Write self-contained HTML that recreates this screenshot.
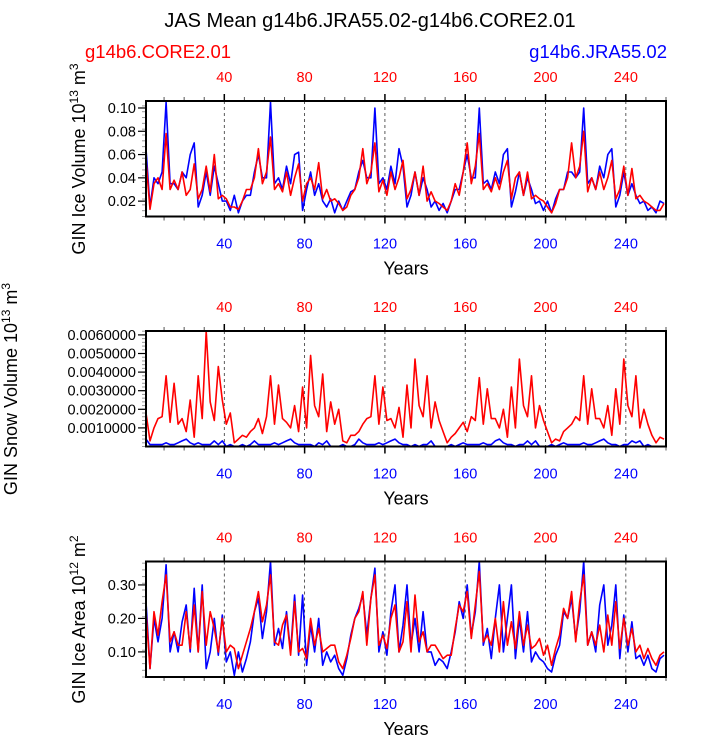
<!DOCTYPE html>
<html><head><meta charset="utf-8"><style>
html,body{margin:0;padding:0;background:#fff;}
svg{display:block;font-family:"Liberation Sans",sans-serif;}
</style></head><body>
<svg id="chart" width="710" height="736" viewBox="0 0 710 736" xmlns="http://www.w3.org/2000/svg">
<text x="370" y="27" text-anchor="middle" font-size="20">JAS Mean g14b6.JRA55.02-g14b6.CORE2.01</text>
<text x="85" y="58" font-size="18.5" fill="#f00">g14b6.CORE2.01</text>
<text x="667" y="58" text-anchor="end" font-size="18.5" fill="#00f">g14b6.JRA55.02</text>
<g id="panels"></g>
</svg>
<script>
const xTicks = [40, 80, 120, 160, 200, 240];
const iceVolRed = [0.055,0.013,0.035,0.040,0.030,0.078,0.030,0.038,0.030,0.045,0.025,0.030,0.052,0.022,0.030,0.050,0.028,0.060,0.022,0.025,0.022,0.015,0.015,0.013,0.020,0.030,
0.030,0.040,0.065,0.035,0.045,0.075,0.030,0.035,0.028,0.045,0.025,0.040,0.052,0.020,0.035,0.040,0.030,0.053,0.022,0.030,0.020,0.022,0.018,0.012,0.015,0.025,
0.030,0.040,0.065,0.035,0.045,0.070,0.028,0.038,0.025,0.045,0.030,0.040,0.055,0.022,0.030,0.045,0.025,0.050,0.020,0.028,0.020,0.018,0.015,0.012,0.020,0.035,
0.025,0.045,0.070,0.035,0.050,0.078,0.030,0.035,0.028,0.040,0.030,0.045,0.055,0.022,0.040,0.045,0.025,0.045,0.022,0.025,0.022,0.020,0.015,0.010,0.018,0.030,
0.030,0.040,0.070,0.040,0.050,0.080,0.028,0.040,0.030,0.045,0.030,0.040,0.055,0.022,0.030,0.050,0.025,0.048,0.022,0.025,0.020,0.018,0.015,0.012,0.012,0.018];
const iceVolBlue = [0.065,0.015,0.040,0.035,0.045,0.105,0.035,0.035,0.030,0.045,0.040,0.060,0.070,0.015,0.025,0.045,0.025,0.050,0.035,0.020,0.020,0.012,0.025,0.010,0.020,0.025,
0.025,0.045,0.060,0.040,0.040,0.105,0.035,0.040,0.030,0.050,0.035,0.060,0.062,0.012,0.030,0.045,0.025,0.035,0.020,0.015,0.022,0.010,0.020,0.012,0.020,0.028,
0.030,0.045,0.055,0.040,0.040,0.100,0.035,0.040,0.030,0.050,0.035,0.065,0.050,0.015,0.025,0.045,0.025,0.040,0.030,0.015,0.020,0.012,0.018,0.010,0.020,0.030,
0.030,0.045,0.060,0.040,0.040,0.100,0.035,0.038,0.030,0.045,0.035,0.060,0.065,0.015,0.028,0.045,0.025,0.040,0.030,0.018,0.020,0.012,0.020,0.010,0.022,0.030,
0.030,0.045,0.045,0.040,0.045,0.100,0.035,0.040,0.030,0.050,0.040,0.060,0.065,0.015,0.025,0.045,0.025,0.035,0.025,0.018,0.020,0.012,0.015,0.010,0.020,0.018];
const snowRed = [0.0018,0.0003,0.0010,0.0015,0.0016,0.0038,0.0013,0.0034,0.0012,0.0015,0.0008,0.0025,0.0005,0.0038,0.0015,0.0062,0.0024,0.0014,0.0043,0.0025,0.0012,0.0018,0.0002,0.0004,0.0006,0.0005,
0.0008,0.0010,0.0015,0.0007,0.0016,0.0038,0.0012,0.0033,0.0015,0.0013,0.0010,0.0022,0.0008,0.0032,0.0010,0.0049,0.0022,0.0016,0.0039,0.0008,0.0024,0.0012,0.0020,0.0003,0.0002,0.0006,
0.0006,0.0008,0.0012,0.0015,0.0016,0.0038,0.0012,0.0032,0.0014,0.0015,0.0010,0.0021,0.0005,0.0033,0.0010,0.0047,0.0022,0.0016,0.0038,0.0010,0.0024,0.0014,0.0008,0.0002,0.0005,0.0007,
0.0010,0.0013,0.0008,0.0016,0.0014,0.0037,0.0012,0.0031,0.0015,0.0015,0.0010,0.0020,0.0005,0.0032,0.0010,0.0047,0.0022,0.0016,0.0038,0.0010,0.0022,0.0014,0.0008,0.0002,0.0004,0.0003,
0.0008,0.0010,0.0012,0.0016,0.0014,0.0038,0.0012,0.0031,0.0015,0.0015,0.0010,0.0022,0.0006,0.0031,0.0012,0.0047,0.0022,0.0016,0.0038,0.0010,0.0020,0.0012,0.0006,0.0002,0.0005,0.0004];
const snowBlue = [0.0004,0.0001,0.0001,0.0001,0.0001,0.0002,0.0001,0.0001,0.0002,0.0003,0.0004,0.0002,0.0001,0.0002,0.0001,0.0001,0.0001,0.0003,0.0001,0.0003,0.0000,0.0001,0.0000,0.0000,0.0001,0.0000,
0.0001,0.0003,0.0001,0.0001,0.0001,0.0001,0.0002,0.0001,0.0002,0.0003,0.0004,0.0002,0.0001,0.0001,0.0001,0.0001,0.0000,0.0002,0.0001,0.0003,0.0000,0.0000,0.0000,0.0001,0.0000,0.0000,
0.0001,0.0004,0.0002,0.0001,0.0001,0.0001,0.0002,0.0001,0.0002,0.0003,0.0004,0.0002,0.0001,0.0001,0.0000,0.0001,0.0000,0.0001,0.0001,0.0003,0.0000,0.0000,0.0000,0.0000,0.0001,0.0000,
0.0001,0.0002,0.0001,0.0001,0.0001,0.0001,0.0002,0.0001,0.0001,0.0003,0.0004,0.0002,0.0001,0.0001,0.0000,0.0001,0.0001,0.0003,0.0001,0.0003,0.0000,0.0000,0.0000,0.0001,0.0000,0.0001,
0.0002,0.0001,0.0001,0.0001,0.0001,0.0002,0.0001,0.0001,0.0002,0.0003,0.0004,0.0002,0.0001,0.0001,0.0000,0.0001,0.0001,0.0003,0.0002,0.0003,0.0000,0.0001,0.0000,0.0000,0.0000,0.0000];
const areaRed = [0.22,0.05,0.22,0.15,0.25,0.33,0.13,0.16,0.12,0.12,0.22,0.11,0.24,0.10,0.28,0.12,0.22,0.17,0.10,0.20,0.10,0.12,0.11,0.05,0.09,0.13,
0.17,0.22,0.28,0.19,0.24,0.33,0.13,0.12,0.18,0.21,0.09,0.25,0.10,0.11,0.08,0.20,0.12,0.17,0.10,0.11,0.12,0.12,0.07,0.05,0.09,0.14,
0.20,0.22,0.28,0.12,0.26,0.33,0.12,0.15,0.11,0.20,0.24,0.10,0.13,0.25,0.10,0.27,0.13,0.16,0.10,0.12,0.12,0.10,0.08,0.09,0.09,0.17,
0.24,0.22,0.28,0.14,0.24,0.34,0.13,0.15,0.12,0.20,0.10,0.25,0.12,0.19,0.11,0.22,0.12,0.18,0.11,0.12,0.14,0.09,0.12,0.06,0.11,0.15,
0.23,0.20,0.28,0.13,0.25,0.33,0.12,0.16,0.12,0.18,0.10,0.21,0.12,0.25,0.11,0.20,0.12,0.17,0.10,0.12,0.08,0.11,0.08,0.06,0.09,0.10];
const areaBlue = [0.25,0.05,0.20,0.13,0.20,0.36,0.10,0.16,0.10,0.19,0.24,0.10,0.29,0.10,0.30,0.05,0.10,0.20,0.09,0.21,0.07,0.10,0.03,0.10,0.04,0.08,
0.13,0.22,0.26,0.14,0.22,0.37,0.12,0.17,0.11,0.22,0.10,0.27,0.09,0.27,0.06,0.18,0.10,0.20,0.06,0.10,0.07,0.09,0.05,0.03,0.08,0.15,
0.20,0.23,0.27,0.15,0.26,0.35,0.10,0.16,0.09,0.22,0.30,0.10,0.18,0.30,0.12,0.20,0.10,0.22,0.10,0.10,0.06,0.08,0.07,0.05,0.10,0.16,
0.25,0.20,0.30,0.15,0.22,0.37,0.12,0.17,0.08,0.20,0.30,0.10,0.20,0.30,0.08,0.20,0.10,0.22,0.07,0.10,0.08,0.07,0.05,0.04,0.09,0.12,
0.22,0.20,0.26,0.14,0.22,0.37,0.12,0.16,0.10,0.24,0.30,0.12,0.18,0.30,0.08,0.21,0.10,0.19,0.08,0.09,0.06,0.09,0.05,0.04,0.08,0.09];
const iceVolTicks = [0.02, 0.04, 0.06, 0.08, 0.10];
const snowTicks = [0.001, 0.002, 0.003, 0.004, 0.005, 0.006];
const areaTicks = [0.10, 0.20, 0.30];

const NS = "http://www.w3.org/2000/svg";
const X0 = 146, X1 = 666, YR0 = 1, YR1 = 260;
function xs(yr){ return X0 + (yr - YR0) * (X1 - X0) / (YR1 - YR0); }
function mk(tag, attrs, parent){ const e = document.createElementNS(NS, tag); for (const k in attrs) e.setAttribute(k, attrs[k]); parent.appendChild(e); return e; }
const root = document.getElementById('panels');

function panel(cfg){
  const top = cfg.top, bot = top + 115.5;
  const g = mk('g', {}, root);
  
  
  const ys = v => bot - (v - cfg.ymin) / (cfg.ymax - cfg.ymin) * (bot - top);
  xTicks.forEach(t => {
    const l = mk('line', {x1: xs(t), x2: xs(t), y1: top, y2: bot, stroke: '#333', 'stroke-width': 0.8, 'stroke-dasharray': '3,3'}, g);
    
    
  });
  for (let t = 10; t <= 260; t += 10) {
    const major = t % 40 === 0;
    const len = major ? 7 : 4;
    mk('line', {x1: xs(t), x2: xs(t), y1: top, y2: top - len, stroke: major ? '#000' : '#555', 'stroke-width': major ? 1.5 : 1}, g);
    mk('line', {x1: xs(t), x2: xs(t), y1: bot, y2: bot + len, stroke: major ? '#000' : '#555', 'stroke-width': major ? 1.5 : 1}, g);
  }
  xTicks.forEach(t => {
    const a = mk('text', {x: xs(t), y: top - 19, 'text-anchor': 'middle', 'font-size': 14.5, fill: '#f00'}, g);
    a.textContent = t;
    
    
    const b = mk('text', {x: xs(t), y: bot + 32, 'text-anchor': 'middle', 'font-size': 14.5, fill: '#00f'}, g);
    b.textContent = t;
    
    
  });
  for (let v = cfg.ymin; v <= cfg.ymax + 1e-12; v += cfg.minor) {
    const yy = ys(v); if (yy < top - 0.5 || yy > bot + 0.5) continue;
    mk('line', {x1: X0, x2: X0 - 4, y1: yy, y2: yy, stroke: '#999', 'stroke-width': 1}, g);
  }
  cfg.ticks.forEach(v => {
    mk('line', {x1: X0, x2: X0 - 8, y1: ys(v), y2: ys(v), stroke: '#000', 'stroke-width': 1.2}, g);
    const tl = mk('text', {x: X0 - 10, y: ys(v) + 5, 'text-anchor': 'end', 'font-size': 14.5}, g);
    tl.textContent = v.toFixed(cfg.dec);
    
    
  });
  [[cfg.blue, '#00f', 'jra-line'], [cfg.red, '#f00', 'core-line']].forEach(([arr, col, nm]) => {
    const pts = arr.map((v, i) => xs(1 + 2 * i).toFixed(1) + ',' + ys(v).toFixed(1)).join(' ');
    const p = mk('polyline', {points: pts, fill: 'none', stroke: col, 'stroke-width': 1.6, 'stroke-linejoin': 'round'}, g);
    
    
  });
  const box = mk('rect', {x: X0, y: top, width: X1 - X0, height: bot - top, fill: 'none', stroke: '#000', 'stroke-width': 2}, g);
  
  
  const xt = mk('text', {x: 406, y: bot + 58, 'text-anchor': 'middle', 'font-size': 18}, g);
  xt.textContent = 'Years';
  
  
  const yt = mk('text', {transform: 'translate(' + cfg.yx + ',' + (top + 58) + ') rotate(-90)', 'text-anchor': 'middle', 'font-size': 18}, g);
  yt.innerHTML = cfg.label + ' 10<tspan font-size="12" dy="-7">' + cfg.e1 + '</tspan><tspan dy="7"> m</tspan><tspan font-size="12" dy="-7">' + cfg.e2 + '</tspan>';
  
  
}
panel({name: 'ice-volume', top: 101, ymin: 0.0068, ymax: 0.106, ticks: iceVolTicks, minor: 0.005, dec: 2, red: iceVolRed, blue: iceVolBlue, label: 'GIN Ice Volume', e1: '13', e2: '3', yx: 85});
panel({name: 'snow-volume', top: 331, ymin: 0.0, ymax: 0.00621, ticks: snowTicks, minor: 0.0002, dec: 7, red: snowRed, blue: snowBlue, label: 'GIN Snow Volume', e1: '13', e2: '3', yx: 17});
panel({name: 'ice-area', top: 561.5, ymin: 0.025, ymax: 0.37, ticks: areaTicks, minor: 0.02, dec: 2, red: areaRed, blue: areaBlue, label: 'GIN Ice Area', e1: '12', e2: '2', yx: 85});
</script>
</body></html>
